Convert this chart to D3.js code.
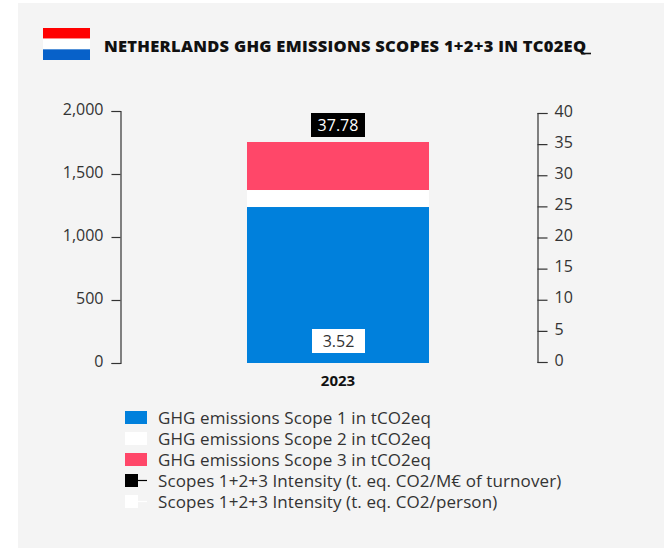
<!DOCTYPE html>
<html><head><meta charset="utf-8">
<script src="https://cdn.jsdelivr.net/npm/d3@7"></script>
<style>html,body{margin:0;padding:0;background:#fff}svg{display:block}text{font-family:"Open Sans",sans-serif}</style>
</head><body><svg id="c" width="668" height="548"></svg>
<script>
const categories = ["2023"];
const scope1 = [1238];
const scope2 = [135];
const scope3 = [381];
const intensityTurnover = [37.78];
const intensityPerson = [3.52];
const leftTicks = [0,500,1000,1500,2000];
const rightTicks = [0,5,10,15,20,25,30,35,40];
const legendLabels = ["GHG emissions Scope 1 in tCO2eq","GHG emissions Scope 2 in tCO2eq","GHG emissions Scope 3 in tCO2eq","Scopes 1+2+3 Intensity (t. eq. CO2/M€ of turnover)","Scopes 1+2+3 Intensity (t. eq. CO2/person)"];
const titleText = "NETHERLANDS GHG EMISSIONS SCOPES 1+2+3 IN TC02EQ";
const colors = ["#0080dc","#ffffff","#ff4769"];
const flagColors = ["#ff0000","#ffffff","#0761c9"];
const bodyFont = '"Open Sans",sans-serif';

const svg = d3.select("#c");
svg.append("rect").attr("x",18).attr("y",3).attr("width",646).attr("height",545).attr("fill","#f4f4f4");

const fy = d3.scaleBand().domain(flagColors).range([28,60]);
svg.selectAll(".flag").data(flagColors).join("rect").attr("x",43).attr("width",47)
  .attr("y",d=>fy(d)).attr("height",fy.bandwidth()).attr("fill",d=>d);
svg.append("text").attr("x",104).attr("y",52).attr("font-size",16.5).attr("font-weight",900)
  .attr("font-family","Lato,sans-serif").attr("fill","#111").attr("letter-spacing",0.27).text(titleText);
svg.append("path").attr("d","M581 53.5h10").attr("stroke","#111").attr("stroke-width",1.6);

const x = d3.scaleBand().domain(categories).range([120.5,555.5]).paddingInner(0).paddingOuter(0.695);
const yL = d3.scaleLinear().domain([0,2000]).range([363,111]);
const yR = d3.scaleLinear().domain([0,40]).range([362,113]);

const stack = d3.stack().keys([0,1,2]).value((d,k)=>[scope1,scope2,scope3][k][categories.indexOf(d)]);
svg.selectAll(".s").data(stack(categories)).join("rect")
  .attr("x",x("2023")).attr("width",x.bandwidth())
  .attr("y",d=>yL(d[0][1])).attr("height",d=>yL(d[0][0])-yL(d[0][1]))
  .attr("fill",(d,i)=>colors[i]);

function style(g){
  g.selectAll("path,line").attr("stroke","#333").attr("stroke-width",1.2);
  g.selectAll("text").attr("font-size",16).attr("fill","#333").attr("font-family",bodyFont).attr("dy","0.2em");
}
svg.append("g").attr("transform","translate(120.5,0)")
  .call(d3.axisLeft(yL).tickValues(leftTicks).tickSize(9).tickSizeOuter(9).tickPadding(8).tickFormat(d3.format(",")))
  .call(style);
svg.append("g").attr("transform","translate(537.5,0)")
  .call(d3.axisRight(yR).tickValues(rightTicks).tickSize(10).tickSizeOuter(10).tickPadding(7))
  .call(style);
svg.append("text").attr("x",338).attr("y",385.5).attr("text-anchor","middle")
  .attr("font-size",15).attr("font-weight",700).attr("font-family","Liberation Sans,sans-serif").attr("fill","#111").text(categories[0]);

// value labels
svg.append("rect").attr("x",311).attr("y",113).attr("width",54).attr("height",24).attr("fill","#000");
svg.append("text").attr("x",338).attr("y",131).attr("text-anchor","middle").attr("font-size",16).attr("fill","#fff").text(intensityTurnover[0]);
svg.append("rect").attr("x",312).attr("y",329).attr("width",53).attr("height",24).attr("fill","#fff");
svg.append("text").attr("x",338.5).attr("y",347).attr("text-anchor","middle").attr("font-size",16).attr("fill","#333").text(intensityPerson[0]);

// legend
const ly = d3.scaleLinear().domain([0,4]).range([418,502]);
const lg = svg.selectAll(".l").data(legendLabels).join("g").attr("transform",(d,i)=>`translate(0,${ly(i)})`);
lg.append("text").attr("x",158).attr("y",6).attr("font-size",17).attr("letter-spacing",0.1).attr("fill","#333").text(d=>d);
lg.filter((d,i)=>i<3).append("rect").attr("x",125).attr("y",-7).attr("width",22).attr("height",13).attr("fill",(d,i)=>colors[i]);
const mk = ["#000","#fff"];
lg.filter((d,i)=>i>=3).append("rect").attr("x",125).attr("y",-7).attr("width",13).attr("height",13).attr("fill",(d,i)=>mk[i]);
lg.filter((d,i)=>i>=3).append("line").attr("x1",138).attr("x2",147).attr("y1",-0.5).attr("y2",-0.5).attr("stroke",(d,i)=>mk[i]).attr("stroke-width",1.2);
</script></body></html>
